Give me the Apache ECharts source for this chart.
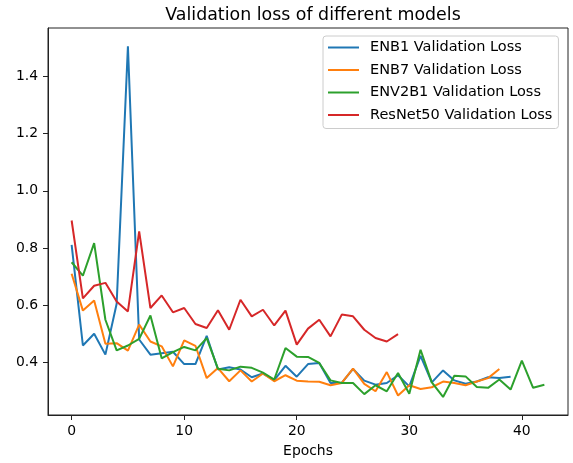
<!DOCTYPE html>
<html>
<head>
    <meta charset="utf-8">
    <title>Validation loss</title>
    <script src="https://cdn.jsdelivr.net/npm/echarts@6/dist/echarts.min.js"></script>
</head>
<body style="margin:0;background:#fff">
    <div id="chart" style="width:573px;height:463px;"></div>
    <script type="text/javascript">
    // values, one per epoch starting at 0
    var enb1 = [0.811, 0.459, 0.500, 0.427, 0.605, 1.505, 0.480, 0.427, 0.432, 0.437,
                0.394, 0.394, 0.493, 0.375, 0.383, 0.375, 0.348, 0.361, 0.338, 0.388,
                0.350, 0.394, 0.398, 0.328, 0.328, 0.377, 0.336, 0.322, 0.328, 0.355,
                0.316, 0.423, 0.330, 0.372, 0.337, 0.325, 0.333, 0.348, 0.345, 0.350];
    var enb7 = [0.710, 0.581, 0.616, 0.465, 0.467, 0.441, 0.532, 0.473, 0.456, 0.386,
                0.477, 0.458, 0.345, 0.380, 0.334, 0.372, 0.333, 0.361, 0.334, 0.355,
                0.336, 0.333, 0.332, 0.320, 0.328, 0.378, 0.325, 0.299, 0.366, 0.284,
                0.320, 0.307, 0.313, 0.333, 0.328, 0.320, 0.333, 0.345, 0.377];
    var env2b1 = [0.750, 0.703, 0.817, 0.549, 0.442, 0.459, 0.482, 0.564, 0.414, 0.436,
                  0.454, 0.442, 0.485, 0.378, 0.372, 0.385, 0.381, 0.364, 0.340, 0.450,
                  0.420, 0.419, 0.398, 0.337, 0.328, 0.328, 0.289, 0.320, 0.299, 0.363,
                  0.290, 0.444, 0.330, 0.279, 0.353, 0.351, 0.314, 0.311, 0.340, 0.305,
                  0.406, 0.311, 0.322];
    var resnet50 = [0.896, 0.624, 0.668, 0.678, 0.613, 0.578, 0.858, 0.590, 0.634, 0.575,
                    0.590, 0.534, 0.520, 0.582, 0.514, 0.619, 0.561, 0.584, 0.529, 0.581,
                    0.462, 0.518, 0.549, 0.491, 0.567, 0.561, 0.514, 0.485, 0.473, 0.499];

    var seriesNames = ['ENB1 Validation Loss', 'ENB7 Validation Loss', 'ENV2B1 Validation Loss', 'ResNet50 Validation Loss'];
    var xTicks = [0, 10, 20, 30, 40];
    var yTicks = [0.4, 0.6, 0.8, 1.0, 1.2, 1.4];

    function toPoints(arr) {
      var pts = [];
      for (var i = 0; i < arr.length; i++) pts.push([i, arr[i]]);
      return pts;
    }

    var font = 'DejaVu Sans';
    var chart = echarts.init(document.getElementById('chart'));

    var colors = ['#1f77b4', '#ff7f0e', '#2ca02c', '#d62728'];
    var all = [enb1, enb7, env2b1, resnet50];
    var series = [];
    for (var s = 0; s < all.length; s++) {
      series.push({
        name: seriesNames[s],
        type: 'line',
        data: toPoints(all[s]),
        showSymbol: false,
        lineStyle: { width: 2, color: colors[s] },
        itemStyle: { color: colors[s] }
      });
    }

    var option = {
      animation: false,
      color: colors,
      title: {
        text: 'Validation loss of different models',
        left: 308,
        textAlign: 'center',
        top: 2,
        textStyle: { fontFamily: font, fontSize: 17.4, fontWeight: 'normal', color: '#000' }
      },
      legend: {
        data: seriesNames,
        orient: 'vertical',
        left: 323,
        top: 36,
        padding: [4, 6, 6, 5],
        itemGap: 7.5,
        itemWidth: 31,
        itemHeight: 2,
        icon: 'rect',
        backgroundColor: 'rgba(255,255,255,0.8)',
        borderColor: '#cccccc',
        borderWidth: 1,
        borderRadius: 3,
        textStyle: { fontFamily: font, fontSize: 14.5, color: '#000', lineHeight: 14.2, padding: [0, 0, 0, 6] }
      },
      grid: {
        left: 48, top: 28, right: 5, bottom: 48,
        show: true,
        borderColor: '#222',
        borderWidth: 1,
        backgroundColor: 'transparent'
      },
      xAxis: {
        type: 'value',
        min: -2.1,
        max: 44.1,
        name: 'Epochs',
        nameLocation: 'middle',
        nameGap: 29,
        nameTextStyle: { fontFamily: font, fontSize: 13.9, color: '#000' },
        splitLine: { show: false },
        axisLine: { show: true, onZero: false, lineStyle: { color: '#222', width: 1 } },
        axisTick: { show: true, length: 5, customValues: xTicks, lineStyle: { color: '#222' } },
        axisLabel: { customValues: xTicks, margin: 9, fontFamily: font, fontSize: 13.9, color: '#000' }
      },
      yAxis: {
        type: 'value',
        min: 0.216,
        max: 1.569,
        splitLine: { show: false },
        axisLine: { show: true, onZero: false, lineStyle: { color: '#222', width: 1 } },
        axisTick: { show: true, length: 5, customValues: yTicks, lineStyle: { color: '#222' } },
        axisLabel: {
          customValues: yTicks, margin: 10, fontFamily: font, fontSize: 13.9, color: '#000',
          formatter: function (v) { return v.toFixed(1); }
        }
      },
      series: series
    };

    chart.setOption(option);
    </script>
</body>
</html>
